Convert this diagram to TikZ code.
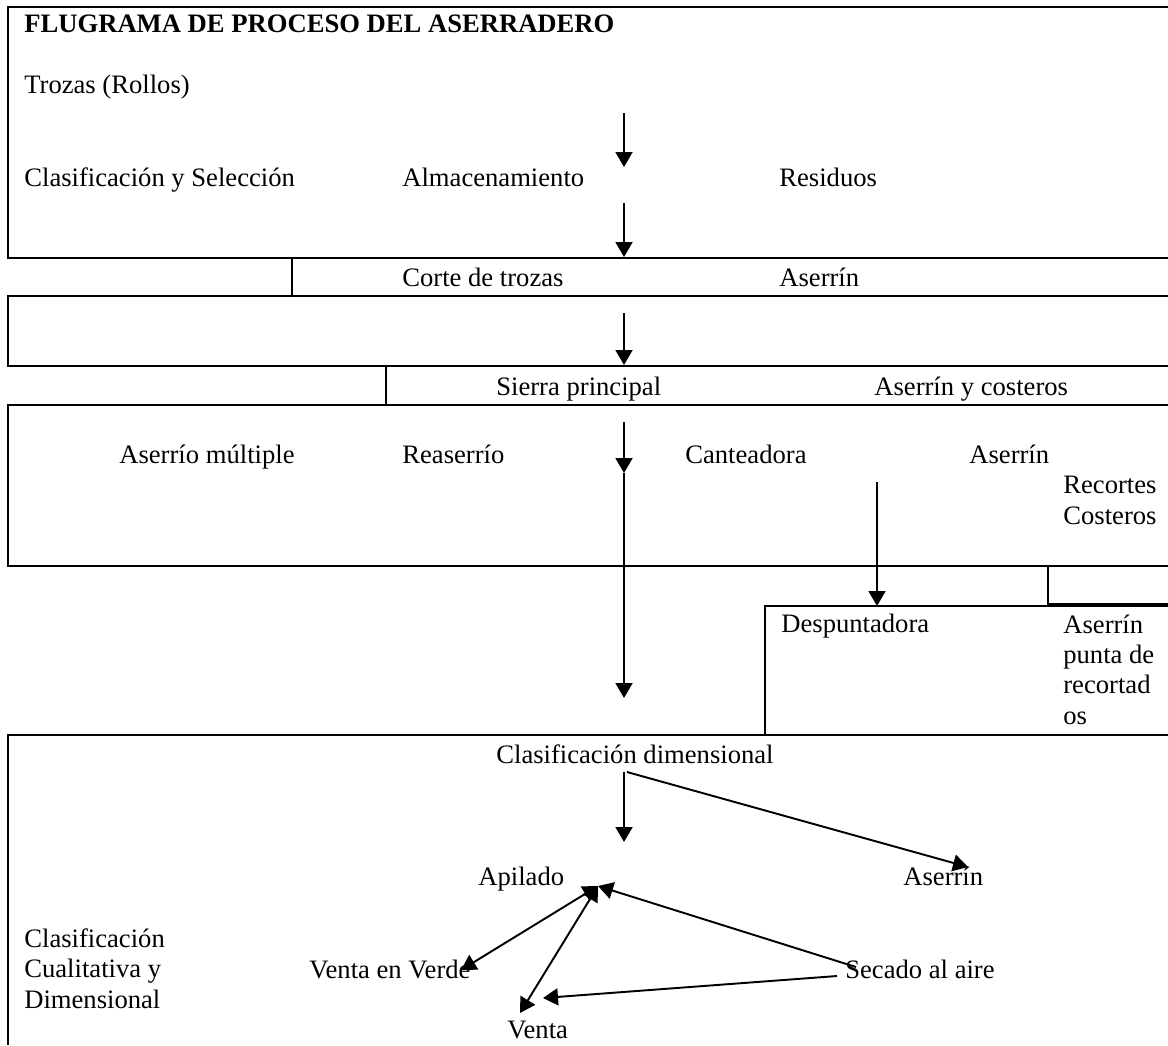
\documentclass[tikz,border=0pt]{standalone}
\usepackage{fontspec}
\setmainfont{Liberation Serif}
\usetikzlibrary{arrows.meta}

\begin{document}
\begin{tikzpicture}[
  x=0.02cm, y=-0.02cm,
  txt/.style={anchor=base west, inner sep=0pt, align=left,
    font=\fontsize{15.15}{17.1}\selectfont},
  titletxt/.style={txt, font=\fontsize{15.15}{17.1}\selectfont\bfseries},
  cell/.style={line width=1.3pt},
  flow/.style={line width=1.1pt, -{Triangle[width=0.34cm, length=0.3cm]}},
  twoway/.style={line width=1.1pt,
    {Triangle[width=0.34cm, length=0.3cm]}-{Triangle[width=0.34cm, length=0.3cm]}}
]
  %------------------------------------------------------------
  %  PARAMETERS
  %------------------------------------------------------------
  \def\xr{1168}   % right edge of the table
  \def\xa{624}    % column of the main flow

  \useasboundingbox (0,0) rectangle (1168,1045);

  %------------------------------------------------------------
  %  TABLE CELLS
  %------------------------------------------------------------
  \draw[cell] (\xr,7) -- (8,7) -- (8,258) -- (\xr,258);
  \draw[cell] (292,258) -- (292,296);
  \draw[cell] (\xr,296) -- (8,296) -- (8,366) -- (\xr,366);
  \draw[cell] (386,366) -- (386,405);
  \draw[cell] (\xr,405) -- (8,405) -- (8,566) -- (\xr,566);
  \draw[cell] (1048,566) -- (1048,604) -- (\xr,604);
  \draw[cell] (\xr,606) -- (765,606) -- (765,735);
  \draw[cell] (\xr,735) -- (8,735) -- (8,1045);

  %------------------------------------------------------------
  %  STAGES  (multi-line nodes sit on their last baseline)
  %------------------------------------------------------------
  \node[titletxt] (title) at (24,32) {FLUGRAMA DE PROCESO DEL ASERRADERO};
  \node[txt] (trozas)   at (24,93)   {Trozas (Rollos)};
  \node[txt] (clasif)   at (24,186)  {Clasificación y Selección};
  \node[txt] (almacen)  at (402,186) {Almacenamiento};
  \node[txt] (residuos) at (779,186) {Residuos};

  \node[txt] (corte)    at (402,286) {Corte de trozas};
  \node[txt] (aserrin1) at (779,286) {Aserrín};

  \node[txt] (sierra)   at (496,395) {Sierra principal};
  \node[txt] (aserrin2) at (874,395) {Aserrín y costeros};

  \node[txt] (multiple) at (119,463) {Aserrío múltiple};
  \node[txt] (reaserr)  at (402,463) {Reaserrío};
  \node[txt] (cantea)   at (685,463) {Canteadora};
  \node[txt] (aserrin3) at (969,463) {Aserrín};
  \node[txt] (recortes) at (1063,524) {Recortes\\Costeros};

  \node[txt] (despunta) at (781,632)  {Despuntadora};
  \node[txt] (aserrin4) at (1063,724) {Aserrín\\punta de\\recortad\\os};

  \node[txt] (clasdim)  at (496,763) {Clasificación dimensional};
  \node[txt] (apilado)  at (478,885) {Apilado};
  \node[txt] (aserrin5) at (903,885) {Aserrín};
  \node[txt] (clascual) at (24,1008) {Clasificación\\Cualitativa y\\Dimensional};
  \node[txt] (verde)    at (309,978) {Venta en Verde};
  \node[txt] (secado)   at (845,978) {Secado al aire};
  \node[txt] (venta)    at (507,1038) {Venta};

  %------------------------------------------------------------
  %  ARROW ENDS
  %------------------------------------------------------------
  \coordinate (a1s) at (\xa,113);  \coordinate (a1e) at (\xa,167);
  \coordinate (a2s) at (\xa,203);  \coordinate (a2e) at (\xa,257);
  \coordinate (a3s) at (\xa,313);  \coordinate (a3e) at (\xa,365);
  \coordinate (a4s) at (\xa,422);  \coordinate (a4m) at (\xa,473);
  \coordinate (a4e) at (\xa,698);
  \coordinate (c1s) at (877,482);  \coordinate (c1e) at (877,606);
  \coordinate (d1s) at (\xa,772);  \coordinate (d1e) at (\xa,842);
  \coordinate (d2s) at (627,772);  \coordinate (d2e) at (968,867);
  \coordinate (pile) at (598,886);
  \coordinate (s1) at (856,967);   \coordinate (s2) at (837,976);
  \coordinate (vv) at (461,970);   \coordinate (vt) at (543,998);
  \coordinate (vn) at (520,1013);

  %------------------------------------------------------------
  %  FLOW
  %------------------------------------------------------------
  \draw[flow] (a1s) -- (a1e);
  \draw[flow] (a2s) -- (a2e);
  \draw[flow] (a3s) -- (a3e);
  \draw[flow] (a4s) -- (a4m);
  \draw[flow] (a4m) -- (a4e);
  \draw[flow] (c1s) -- (c1e);
  \draw[flow] (d1s) -- (d1e);
  \draw[flow] (d2s) -- (d2e);
  \draw[flow] (s1) -- (pile);
  \draw[flow] (s2) -- (vt);
  \draw[twoway] (pile) -- (vv);
  \draw[twoway] (pile) -- (vn);

\end{tikzpicture}
\end{document}
